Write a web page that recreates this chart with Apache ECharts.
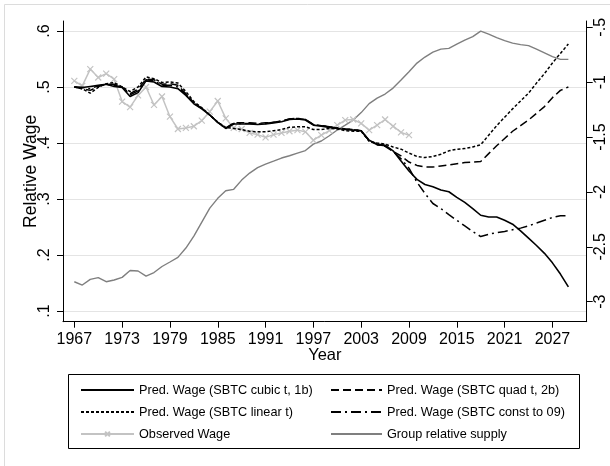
<!DOCTYPE html>
<html><head><meta charset="utf-8">
<script src="https://cdn.jsdelivr.net/npm/echarts@6/dist/echarts.min.js"></script>
<style>html,body{margin:0;padding:0;background:#fff}#c{width:610px;height:466px}</style>
</head><body><div id="c"></div>
<script>
const years = [1967,1968,1969,1970,1971,1972,1973,1974,1975,1976,1977,1978,1979,1980,1981,1982,1983,1984,1985,1986,1987,1988,1989,1990,1991,1992,1993,1994,1995,1996,1997,1998,1999,2000,2001,2002,2003,2004,2005,2006,2007,2008,2009,2010,2011,2012,2013,2014,2015,2016,2017,2018,2019,2020,2021,2022,2023,2024,2025,2026,2027,2028,2029];
const obsYears = [1967,1968,1969,1970,1971,1972,1973,1974,1975,1976,1977,1978,1979,1980,1981,1982,1983,1984,1985,1986,1987,1988,1989,1990,1991,1992,1993,1994,1995,1996,1997,1998,1999,2000,2001,2002,2003,2004,2005,2006,2007,2008,2009];

const predCubic = [.500,.499,.501,.503,.505,.501,.499,.483,.490,.511,.509,.501,.500,.497,.485,.470,.461,.450,.437,.426,.434,.434,.434,.433,.434,.436,.438,.442,.443,.441,.432,.430,.428,.426,.424,.423,.422,.405,.398,.396,.386,.368,.350,.335,.326,.322,.316,.313,.303,.294,.283,.271,.268,.268,.262,.255,.243,.230,.217,.203,.186,.166,.143];
const predQuad = [.500,.497,.494,.501,.505,.505,.500,.488,.496,.514,.513,.505,.506,.503,.488,.472,.462,.450,.437,.427,.436,.436,.436,.435,.436,.437,.439,.443,.444,.442,.433,.431,.429,.427,.425,.424,.422,.404,.397,.394,.385,.377,.366,.360,.357,.357,.359,.361,.363,.365,.366,.367,.381,.395,.408,.421,.431,.441,.453,.465,.481,.494,.500];
const predLinear = [.500,.497,.489,.4995,.506,.508,.500,.492,.500,.518,.515,.508,.509,.507,.492,.474,.463,.450,.437,.428,.426,.424,.421,.420,.420,.422,.424,.428,.429,.429,.424,.424,.426,.425,.422,.421,.421,.403,.400,.398,.393,.389,.382,.376,.374,.376,.380,.386,.389,.390,.393,.397,.414,.431,.446,.461,.475,.489,.507,.524,.543,.560,.577];
const predConst = [.500,.499,.497,.502,.505,.503,.500,.486,.493,.513,.511,.503,.503,.500,.487,.471,.462,.450,.437,.426,.435,.435,.435,.434,.435,.437,.439,.443,.444,.442,.433,.431,.429,.427,.425,.424,.422,.404,.397,.395,.385,.372,.355,.330,.310,.292,.283,.272,.262,.252,.242,.233,.237,.240,.242,.245,.248,.252,.257,.262,.267,.270,.270];
const observedWage = [.511,.502,.532,.517,.524,.514,.474,.464,.485,.500,.468,.483,.447,.425,.427,.430,.440,.456,.475,.444,.427,.425,.418,.415,.410,.415,.418,.421,.423,.420,.405,.414,.422,.432,.441,.442,.435,.423,.432,.442,.430,.419,.414];
const relSupply = [-2.818,-2.848,-2.796,-2.781,-2.818,-2.802,-2.778,-2.716,-2.720,-2.766,-2.734,-2.679,-2.638,-2.596,-2.511,-2.402,-2.274,-2.147,-2.058,-1.989,-1.976,-1.892,-1.828,-1.778,-1.746,-1.719,-1.691,-1.670,-1.646,-1.623,-1.564,-1.536,-1.488,-1.436,-1.391,-1.345,-1.277,-1.195,-1.145,-1.108,-1.054,-0.981,-0.905,-0.826,-0.771,-0.726,-0.699,-0.692,-0.653,-0.617,-0.585,-0.535,-0.562,-0.594,-0.621,-0.644,-0.658,-0.667,-0.699,-0.732,-0.767,-0.792,-0.792];

const xTicks = [1967,1973,1979,1985,1991,1997,2003,2009,2015,2021,2027];
const leftTicks = [0.1,0.2,0.3,0.4,0.5,0.6];
const rightTicks = [-3,-2.5,-2,-1.5,-1,-0.5];

const names = ['Pred. Wage (SBTC cubic t, 1b)','Pred. Wage (SBTC quad t, 2b)','Pred. Wage (SBTC linear t)','Pred. Wage (SBTC const to 09)','Observed Wage','Group relative supply'];

const FONT = 'Liberation Sans, Arial, Helvetica, sans-serif';
const pair = (xs, ys) => xs.map((x, i) => [x, ys[i]]);
const fmt = v => String(+v.toFixed(2)).replace('0.', '.');
const noSym = {color: 'rgba(0,0,0,0)', borderColor: 'rgba(0,0,0,0)', borderWidth: 0, opacity: 0};

const chart = echarts.init(document.getElementById('c'), null, {renderer: 'canvas'});
const lineBase = {type: 'line', showSymbol: false, symbol: 'none', silent: true, animation: false};
chart.setOption({
  animation: false,
  backgroundColor: '#fff',
  textStyle: {fontFamily: FONT, color: '#000'},
  grid: {left: 63, right: 23.3, top: 21, bottom: 144.3, containLabel: false},
  xAxis: {
    type: 'value', min: 1965.58, max: 2031.3,
    name: 'Year', nameLocation: 'middle', nameGap: 25, nameMoveOverlap: false,
    nameTextStyle: {fontSize: 16.5, color: '#000', fontFamily: FONT},
    axisLine: {show: true, lineStyle: {color: '#000', width: 1}},
    axisTick: {show: true, length: 6, lineStyle: {color: '#000'}, customValues: xTicks},
    axisLabel: {fontSize: 16, color: '#000', margin: 10, fontFamily: FONT, customValues: xTicks, formatter: v => String(v)},
    splitLine: {show: false}
  },
  yAxis: [{
    type: 'value', min: 0.0809, max: 0.6179, position: 'left',
    name: 'Relative Wage', nameLocation: 'middle', nameGap: 22.5, nameRotate: 90, nameMoveOverlap: false,
    nameTextStyle: {fontSize: 17.5, color: '#000', fontFamily: FONT},
    axisLine: {show: true, lineStyle: {color: '#000', width: 1}},
    axisTick: {show: true, length: 6, lineStyle: {color: '#000'}, customValues: leftTicks},
    axisLabel: {fontSize: 16, color: '#000', margin: 10, rotate: 90, fontFamily: FONT, customValues: leftTicks, formatter: fmt},
    splitLine: {show: true, lineStyle: {color: '#e4e4e4', width: 1.2}}
  }, {
    type: 'value', min: -3.182, max: -0.4426, position: 'right',
    axisLine: {show: true, lineStyle: {color: '#000', width: 1}},
    axisTick: {show: true, length: 6, lineStyle: {color: '#000'}, customValues: rightTicks},
    axisLabel: {fontSize: 16, color: '#000', margin: 6, rotate: 90, fontFamily: FONT, customValues: rightTicks, formatter: fmt},
    splitLine: {show: false}
  }],
  legend: [{
    left: 75, top: 378, orient: 'vertical', itemGap: 8, itemWidth: 53, itemHeight: 6,
    selectedMode: false,
    data: [{name: names[0], itemStyle: noSym}, {name: names[2], itemStyle: noSym}, {name: names[4]}],
    textStyle: {fontSize: 12.7, color: '#000', fontFamily: FONT, lineHeight: 14}
  }, {
    left: 325, top: 378, orient: 'vertical', itemGap: 8, itemWidth: 51, itemHeight: 6,
    selectedMode: false,
    data: [{name: names[1], itemStyle: noSym}, {name: names[3], itemStyle: noSym}, {name: names[5], itemStyle: noSym}],
    textStyle: {fontSize: 12.7, color: '#000', fontFamily: FONT, lineHeight: 14}
  }],
  graphic: [
    {type: 'rect', silent: true, shape: {x: 4.5, y: 4.5, width: 700, height: 700}, style: {fill: 'none', stroke: '#dcdcdc', lineWidth: 1}},
    {type: 'rect', silent: true, shape: {x: 68.5, y: 374.5, width: 511, height: 74}, style: {fill: 'none', stroke: '#000', lineWidth: 1}}
  ],
  series: [
    Object.assign({}, lineBase, {name: names[5], yAxisIndex: 1, data: pair(years, relSupply), z: 1,
      lineStyle: {color: '#7f7f7f', width: 1.4}, itemStyle: {color: '#7f7f7f'}}),
    Object.assign({}, lineBase, {name: names[4], data: pair(obsYears, observedWage), z: 2,
      showSymbol: true, symbol: 'path://M0,0L10,10M10,0L0,10', symbolSize: 6,
      lineStyle: {color: '#c3c3c3', width: 1.5},
      itemStyle: {color: 'rgba(0,0,0,0)', borderColor: '#c3c3c3', borderWidth: 1.2}}),
    Object.assign({}, lineBase, {name: names[3], data: pair(years, predConst), z: 3,
      lineStyle: {color: '#000', width: 1.5, type: [10, 4, 2, 4]}, itemStyle: {color: '#000'}}),
    Object.assign({}, lineBase, {name: names[2], data: pair(years, predLinear), z: 3,
      lineStyle: {color: '#000', width: 1.5, type: [3, 2]}, itemStyle: {color: '#000'}}),
    Object.assign({}, lineBase, {name: names[1], data: pair(years, predQuad), z: 3,
      lineStyle: {color: '#000', width: 1.5, type: [8, 4]}, itemStyle: {color: '#000'}}),
    Object.assign({}, lineBase, {name: names[0], data: pair(years, predCubic), z: 4,
      lineStyle: {color: '#000', width: 1.6}, itemStyle: {color: '#000'}})
  ]
});
</script>
</body></html>
